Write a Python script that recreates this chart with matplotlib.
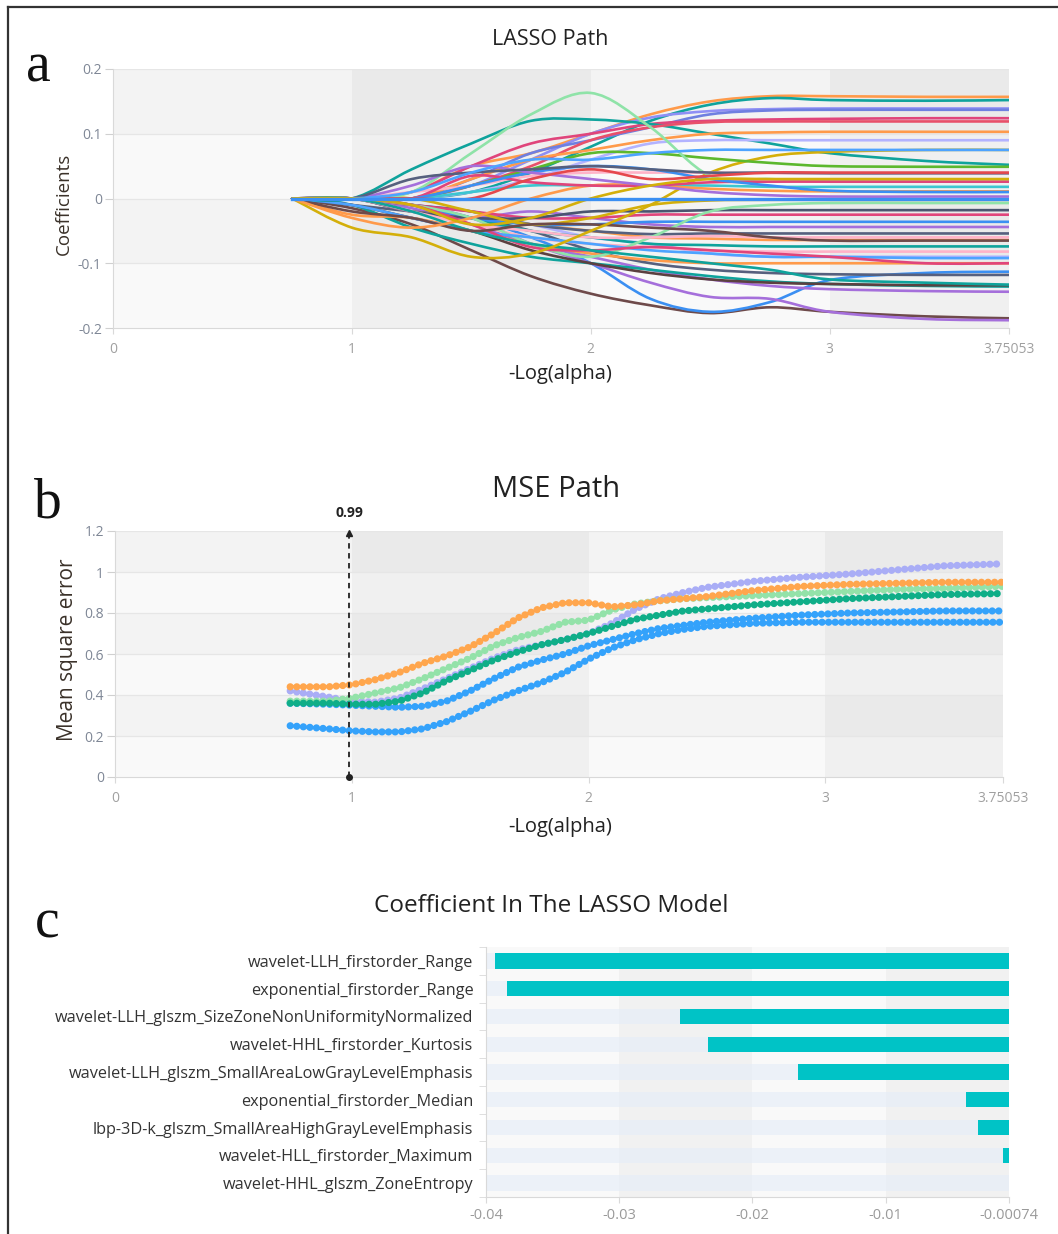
import matplotlib.pyplot as plt
from matplotlib.lines import Line2D
from matplotlib.path import Path
from matplotlib.patches import PathPatch

plt.rcParams['font.family'] = ['Open Sans', 'DejaVu Sans']

W, H = 1058, 1234

# ---- a: LASSO path (coefficients at a few -log(alpha) knots) ----
coef_x = [0.75, 1.0, 1.25, 1.5, 1.75, 2.0, 2.25, 2.5, 2.75, 3.0, 3.4, 3.75053]

upper_colors = ['#ff9a4a', '#0fa39c', '#8f8ff5', '#6f7fe0', '#e0457b', '#0fa39c',
                '#e8506a', '#ff9a4a', '#b3b3ff', '#d4af0a', '#5cb82e', '#8fe3a8',
                '#ffb3c8', '#3cc6d0', '#ff9a4a', '#e0457b', '#3b8ff2', '#a56fdb',
                '#56607e', '#e5484d', '#4da3ff', '#d4af0a']
upper_paths = [
    [0, 0, 0.01, 0.05, 0.07, 0.10, 0.13, 0.15, 0.158, 0.158, 0.157, 0.157],
    [0, 0, 0, 0.01, 0.04, 0.08, 0.12, 0.145, 0.155, 0.152, 0.151, 0.152],
    [0, 0, 0, 0.02, 0.06, 0.10, 0.125, 0.135, 0.138, 0.139, 0.139, 0.139],
    [0, 0, 0, 0.03, 0.07, 0.09, 0.11, 0.13, 0.136, 0.137, 0.137, 0.137],
    [0, 0, 0.01, 0.05, 0.085, 0.10, 0.115, 0.12, 0.122, 0.123, 0.124, 0.124],
    [0, 0, 0.045, 0.085, 0.12, 0.122, 0.115, 0.10, 0.085, 0.07, 0.058, 0.052],
    [0, 0, 0, 0.02, 0.05, 0.09, 0.11, 0.118, 0.119, 0.119, 0.119, 0.119],
    [0, 0, 0, 0.03, 0.06, 0.075, 0.09, 0.10, 0.102, 0.103, 0.103, 0.103],
    [0, 0, 0, 0.01, 0.03, 0.06, 0.085, 0.09, 0.09, 0.09, 0.09, 0.09],
    [0, -0.045, -0.06, -0.09, -0.085, -0.05, -0.01, 0.04, 0.065, 0.072, 0.075, 0.075],
    [0, 0, 0, 0.02, 0.045, 0.07, 0.07, 0.062, 0.055, 0.05, 0.049, 0.049],
    [0, 0, 0.01, 0.07, 0.13, 0.163, 0.11, 0.035, 0.03, 0.027, 0.026, 0.026],
    [0, 0, 0.01, 0.02, 0.035, 0.04, 0.04, 0.04, 0.039, 0.039, 0.039, 0.039],
    [0, 0, 0, 0.01, 0.02, 0.02, 0.02, 0.02, 0.018, 0.018, 0.018, 0.018],
    [0, -0.03, -0.045, -0.03, 0.0, 0.02, 0.02, 0.015, 0.012, 0.011, 0.011, 0.011],
    [0, 0, 0, 0.035, 0.025, 0.02, 0.02, 0.025, 0.026, 0.026, 0.026, 0.026],
    [0, 0, 0, 0.02, 0.04, 0.05, 0.045, 0.03, 0.02, 0.012, 0.01, 0.01],
    [0, 0, 0.02, 0.05, 0.04, 0.03, 0.02, 0.01, 0.005, 0.003, 0.003, 0.003],
    [0, 0, 0.03, 0.04, 0.045, 0.05, 0.045, 0.04, 0.04, 0.039, 0.039, 0.039],
    [0, 0, 0, 0, 0.03, 0.045, 0.03, 0.035, 0.04, 0.04, 0.04, 0.04],
    [0, 0, 0.01, 0.04, 0.06, 0.06, 0.07, 0.075, 0.075, 0.075, 0.075, 0.075],
    [0, 0, -0.01, -0.04, -0.03, 0.0, 0.02, 0.03, 0.03, 0.03, 0.03, 0.03],
]

lower_colors = ['#6e4a4a', '#3b8ff2', '#a56fdb', '#a56fdb', '#0fa39c', '#5b4040',
                '#56607e', '#ff9a4a', '#b3b3ff', '#ffb3c8', '#0fa39c', '#ff9a4a',
                '#56607e', '#a56fdb', '#3b8ff2', '#e0457b', '#4a5570', '#8fe3a8',
                '#d4af0a', '#ffb3c8', '#4da3ff', '#e0457b', '#0fa39c', '#6e4a4a']
lower_paths = [
    [0, -0.015, -0.04, -0.08, -0.12, -0.147, -0.165, -0.177, -0.168, -0.175, -0.182, -0.185],
    [0, 0, -0.01, -0.03, -0.06, -0.10, -0.155, -0.175, -0.16, -0.126, -0.115, -0.113],
    [0, 0, -0.01, -0.03, -0.07, -0.10, -0.13, -0.152, -0.155, -0.175, -0.186, -0.188],
    [0, 0, -0.015, -0.04, -0.07, -0.09, -0.11, -0.125, -0.135, -0.14, -0.143, -0.144],
    [0, -0.01, -0.045, -0.07, -0.09, -0.10, -0.11, -0.12, -0.128, -0.132, -0.135, -0.136],
    [0, -0.01, -0.03, -0.05, -0.08, -0.10, -0.115, -0.125, -0.13, -0.132, -0.134, -0.134],
    [0, -0.01, -0.02, -0.03, -0.05, -0.08, -0.10, -0.11, -0.115, -0.117, -0.118, -0.118],
    [0, -0.025, -0.03, -0.05, -0.07, -0.085, -0.095, -0.10, -0.10, -0.10, -0.10, -0.10],
    [0, 0, -0.01, -0.02, -0.04, -0.06, -0.07, -0.085, -0.09, -0.09, -0.09, -0.09],
    [0, 0, -0.02, -0.04, -0.06, -0.07, -0.075, -0.08, -0.082, -0.082, -0.082, -0.082],
    [0, 0, -0.01, -0.03, -0.05, -0.06, -0.07, -0.072, -0.074, -0.074, -0.074, -0.074],
    [0, 0, -0.02, -0.03, -0.04, -0.05, -0.06, -0.062, -0.064, -0.064, -0.064, -0.064],
    [0, 0, -0.01, -0.02, -0.04, -0.05, -0.055, -0.054, -0.054, -0.054, -0.054, -0.054],
    [0, 0, -0.02, -0.03, -0.02, -0.03, -0.04, -0.044, -0.044, -0.044, -0.044, -0.044],
    [0, 0, -0.01, -0.03, -0.04, -0.04, -0.036, -0.036, -0.036, -0.036, -0.036, -0.036],
    [0, 0, -0.01, -0.02, -0.03, -0.03, -0.025, -0.025, -0.025, -0.025, -0.025, -0.025],
    [0, 0, -0.02, -0.03, -0.03, -0.02, -0.02, -0.018, -0.018, -0.018, -0.018, -0.018],
    [0, 0, -0.01, -0.03, -0.07, -0.09, -0.06, -0.02, -0.01, -0.007, -0.007, -0.007],
    [0, 0, 0, -0.02, -0.04, -0.03, -0.01, -0.003, -0.002, -0.002, -0.002, -0.002],
    [0, 0, -0.02, -0.04, -0.05, -0.06, -0.06, -0.058, -0.06, -0.06, -0.06, -0.06],
    [0, -0.01, -0.03, -0.05, -0.06, -0.07, -0.08, -0.085, -0.09, -0.09, -0.092, -0.092],
    [0, 0, -0.01, -0.04, -0.075, -0.08, -0.075, -0.08, -0.085, -0.09, -0.10, -0.10],
    [0, 0, -0.02, -0.05, -0.07, -0.08, -0.09, -0.10, -0.11, -0.125, -0.13, -0.133],
    [0, -0.02, -0.03, -0.05, -0.04, -0.04, -0.045, -0.05, -0.06, -0.065, -0.065, -0.065],
]
zero_path = [0, 0, 0, 0, 0, 0, 0, 0, 0, 0, 0, 0]

# ---- b: MSE path ----
mse_x = [0.74, 0.9, 1.0, 1.1, 1.2, 1.3, 1.4, 1.5, 1.6, 1.7, 1.8, 1.9,
         2.0, 2.1, 2.2, 2.3, 2.4, 2.5, 2.7, 2.9, 3.1, 3.3, 3.5, 3.75]
mse_blue_lower = [0.25, 0.235, 0.225, 0.22, 0.22, 0.235, 0.27, 0.32, 0.375, 0.42, 0.46, 0.51,
                  0.575, 0.63, 0.67, 0.70, 0.72, 0.735, 0.75, 0.755, 0.755, 0.755, 0.755, 0.755]
mse_blue_upper = [0.36, 0.355, 0.35, 0.345, 0.34, 0.345, 0.37, 0.42, 0.48, 0.535, 0.57, 0.60,
                  0.64, 0.67, 0.70, 0.725, 0.74, 0.755, 0.775, 0.79, 0.80, 0.805, 0.81, 0.81]
mse_lavender = [0.42, 0.39, 0.37, 0.365, 0.385, 0.43, 0.48, 0.53, 0.58, 0.62, 0.645, 0.67,
                0.70, 0.75, 0.82, 0.87, 0.90, 0.925, 0.955, 0.975, 0.99, 1.01, 1.03, 1.04]
mse_lightgreen = [0.37, 0.37, 0.385, 0.41, 0.435, 0.48, 0.53, 0.58, 0.64, 0.68, 0.71, 0.755,
                  0.765, 0.815, 0.845, 0.86, 0.87, 0.875, 0.885, 0.895, 0.905, 0.915, 0.92, 0.93]
mse_orange = [0.44, 0.44, 0.45, 0.475, 0.51, 0.555, 0.59, 0.635, 0.70, 0.775, 0.825, 0.85,
              0.85, 0.83, 0.84, 0.86, 0.87, 0.88, 0.91, 0.93, 0.94, 0.945, 0.95, 0.95]
mse_green = [0.36, 0.36, 0.355, 0.355, 0.37, 0.41, 0.47, 0.52, 0.57, 0.61, 0.645, 0.67,
             0.70, 0.735, 0.77, 0.79, 0.81, 0.82, 0.84, 0.855, 0.87, 0.88, 0.89, 0.895]
best_log_alpha = 0.99

# ---- c: coefficients in the model ----
features = ['wavelet-LLH_firstorder_Range',
            'exponential_firstorder_Range',
            'wavelet-LLH_glszm_SizeZoneNonUniformityNormalized',
            'wavelet-HHL_firstorder_Kurtosis',
            'wavelet-LLH_glszm_SmallAreaLowGrayLevelEmphasis',
            'exponential_firstorder_Median',
            'lbp-3D-k_glszm_SmallAreaHighGrayLevelEmphasis',
            'wavelet-HLL_firstorder_Maximum',
            'wavelet-HHL_glszm_ZoneEntropy']
feature_coefs = [-0.0393, -0.0384, -0.0254, -0.0233, -0.0166, -0.0040, -0.0031, -0.0012, -0.00074]


def fx(px):
    return px / W


def fy(py):
    return 1 - py / H


def smooth_line(ax, xs, ys, color, lw, zorder=2, tension=1 / 6):
    # cubic bezier through the knots (like echarts "smooth: true")
    verts = [(xs[0], ys[0])]
    codes = [Path.MOVETO]
    n = len(xs)
    for i in range(n - 1):
        xp, yp = (xs[i - 1], ys[i - 1]) if i > 0 else (xs[i], ys[i])
        xn, yn = (xs[i + 2], ys[i + 2]) if i + 2 < n else (xs[i + 1], ys[i + 1])
        c1 = (xs[i] + (xs[i + 1] - xp) * tension, ys[i] + (ys[i + 1] - yp) * tension)
        c2 = (xs[i + 1] - (xn - xs[i]) * tension, ys[i + 1] - (yn - ys[i]) * tension)
        verts += [c1, c2, (xs[i + 1], ys[i + 1])]
        codes += [Path.CURVE4] * 3
    ax.add_patch(PathPatch(Path(verts, codes), fill=False, edgecolor=color, lw=lw,
                           joinstyle='round', capstyle='round', zorder=zorder))


def base_axes(ax, xbands, ybands):
    ax.set_facecolor('#f9f9f9')
    for a, b in xbands:
        ax.axvspan(a, b, color='black', alpha=0.035, lw=0, zorder=0)
    for a, b in ybands:
        ax.axhspan(a, b, color='black', alpha=0.022, lw=0, zorder=0)
    for s in ('top', 'right'):
        ax.spines[s].set_visible(False)
    for s in ('left', 'bottom'):
        ax.spines[s].set_color('#d9d9d9')
    ax.tick_params(axis='y', length=6, color='#d0d0d0', labelcolor='#7f8796',
                   labelsize=10, pad=2)
    ax.tick_params(axis='x', length=4, color='#d9d9d9', labelcolor='#a0a0a0',
                   labelsize=10, pad=6)


fig = plt.figure(figsize=(W / 100, H / 100), dpi=100)

# frame lines (top and left)
fig.add_artist(Line2D([fx(8), 1], [fy(7), fy(7)], color='#333333', lw=1.6,
                      transform=fig.transFigure))
fig.add_artist(Line2D([fx(8), fx(8)], [0, fy(7)], color='#333333', lw=1.6,
                      transform=fig.transFigure))

# ---------------- a ----------------
ax1 = fig.add_axes([fx(113), fy(328), fx(1009 - 113), (328 - 69) / H])
base_axes(ax1, [(1, 2), (3, 3.75053)], [(0.1, 0.2), (-0.1, 0)])
ax1.set_xlim(0, 3.75053)
ax1.set_ylim(-0.2, 0.2)
for yv in [-0.1, 0, 0.1, 0.2]:
    ax1.axhline(yv, color='#e6e6e6', lw=0.9, zorder=0.5)
for path, c in zip(lower_paths, lower_colors):
    smooth_line(ax1, coef_x, path, c, 1.9)
for path, c in zip(upper_paths, upper_colors):
    smooth_line(ax1, coef_x, path, c, 1.9)
ax1.plot(coef_x, zero_path, color='#3b8ff2', lw=2.4, zorder=3)
ax1.set_xticks([0, 1, 2, 3, 3.75053])
ax1.set_xticklabels(['0', '1', '2', '3', '3.75053'])
ax1.set_yticks([-0.2, -0.1, 0, 0.1, 0.2])
ax1.set_yticklabels(['-0.2', '-0.1', '0', '0.1', '0.2'])

fig.text(fx(550), fy(45), 'LASSO Path', ha='center', va='baseline', fontsize=15.5, color='#222222')
fig.text(fx(64), fy(204), 'Coefficients', ha='center', va='center', rotation=90,
         fontsize=13.5, color='#3a3129')
fig.text(fx(560), fy(379), '-Log(alpha)', ha='center', va='baseline', fontsize=14.5, color='#222222')
fig.text(fx(38), fy(82), 'a', ha='center', va='baseline', fontsize=40,
         family='Liberation Serif', color='#111111')

# ---------------- b ----------------
ax2 = fig.add_axes([fx(115), fy(777), fx(1003 - 115), (777 - 531) / H])
base_axes(ax2, [(1, 2), (3, 3.75053)], [(1.0, 1.2), (0.6, 0.8), (0.2, 0.4)])
ax2.set_xlim(0, 3.75053)
ax2.set_ylim(0, 1.2)
for yv in [0.2, 0.4, 0.6, 0.8, 1.0, 1.2]:
    ax2.axhline(yv, color='#e6e6e6', lw=0.9, zorder=0.5)

mse_series = [(mse_blue_lower, '#34a2fb'), (mse_blue_upper, '#34a2fb'),
              (mse_lavender, '#a9adf6'), (mse_lightgreen, '#93e2a9'),
              (mse_orange, '#ffa64d'), (mse_green, '#0fae88')]
for vals, c in mse_series:
    ax2.plot(mse_x, vals, color=c, lw=5.2, linestyle=(0, (0.01, 0.9)),
             dash_capstyle='round', zorder=3)

ax2.plot([best_log_alpha, best_log_alpha], [0, 1.17], color='#222222', lw=1.3,
         linestyle=(0, (3, 2.5)), zorder=4, clip_on=False)
ax2.plot([best_log_alpha], [1.19], marker='^', ms=5, color='#222222', zorder=4, clip_on=False)
ax2.plot([best_log_alpha], [0], marker='o', ms=4, color='#222222', zorder=4, clip_on=False)
ax2.annotate(f'{best_log_alpha:.2f}', xy=(best_log_alpha, 1.2), xytext=(0, 8),
             textcoords='offset points', ha='center', va='bottom', fontsize=10,
             fontweight='bold', color='#222222')

ax2.set_xticks([0, 1, 2, 3, 3.75053])
ax2.set_xticklabels(['0', '1', '2', '3', '3.75053'])
ax2.set_yticks([0, 0.2, 0.4, 0.6, 0.8, 1.0, 1.2])
ax2.set_yticklabels(['0', '0.2', '0.4', '0.6', '0.8', '1', '1.2'])

fig.text(fx(556), fy(497), 'MSE Path', ha='center', va='baseline', fontsize=21, color='#222222')
fig.text(fx(68), fy(650), 'Mean square error', ha='center', va='center', rotation=90,
         fontsize=15, color='#3a3129')
fig.text(fx(560), fy(832), '-Log(alpha)', ha='center', va='baseline', fontsize=14.5, color='#222222')
fig.text(fx(48), fy(517), 'b', ha='center', va='baseline', fontsize=40,
         family='Liberation Serif', color='#111111')

# ---------------- c ----------------
xmin, xmax = -0.04, -0.00074
ax3 = fig.add_axes([fx(486), fy(1197), fx(1009 - 486), (1197 - 947) / H])
ax3.set_facecolor('#f9f9f9')
for a, b in [(-0.03, -0.02), (-0.01, xmax)]:
    ax3.axvspan(a, b, color='black', alpha=0.03, lw=0, zorder=0)
ypos = list(range(len(features)))
ax3.barh(ypos, [xmax - xmin] * len(features), left=xmin, height=0.55,
         color='#e4ecf8', alpha=0.6, lw=0, zorder=1)
ax3.barh(ypos, feature_coefs, height=0.55, color='#00c3c6', lw=0, zorder=2)
ax3.set_xlim(xmin, xmax)
ax3.set_ylim(len(features) - 0.5, -0.5)
for s in ('top', 'right'):
    ax3.spines[s].set_visible(False)
for s in ('left', 'bottom'):
    ax3.spines[s].set_color('#d9d9d9')
ax3.set_yticks(ypos)
ax3.set_yticklabels(features)
ax3.set_yticks([i - 0.5 for i in range(len(features) + 1)], minor=True)
ax3.tick_params(axis='y', which='major', length=0, pad=9, labelsize=11.7, labelcolor='#333333')
ax3.tick_params(axis='y', which='minor', length=5, color='#d9d9d9')
ax3.set_xticks([-0.04, -0.03, -0.02, -0.01, xmax])
ax3.set_xticklabels(['-0.04', '-0.03', '-0.02', '-0.01', '-0.00074'])
ax3.tick_params(axis='x', length=4, color='#d9d9d9', labelcolor='#9a9a9a',
                labelsize=10.5, pad=4)

fig.text(fx(551), fy(912), 'Coefficient In The LASSO Model', ha='center', va='baseline',
         fontsize=17.5, color='#222222')
fig.text(fx(47), fy(938), 'c', ha='center', va='baseline', fontsize=40,
         family='Liberation Serif', color='#111111')

fig.savefig('out.png', dpi=100, facecolor='white')
